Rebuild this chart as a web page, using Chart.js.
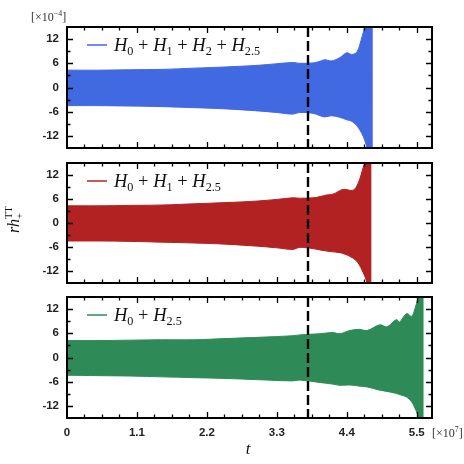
<!DOCTYPE html>
<html>
<head>
<meta charset="utf-8">
<script src="https://cdn.jsdelivr.net/npm/chart.js@4.4.1/dist/chart.umd.min.js"></script>
<style>
html, body { margin: 0; padding: 0; background: #fff; }
#wrap { position: relative; width: 464px; height: 464px; }
#wrap canvas { position: absolute; left: 0; }
</style>
</head>
<body>
<div id="wrap">
  <canvas id="g1" width="464" height="163" style="top:0px;width:464px;height:163px"></canvas>
  <canvas id="g2" width="464" height="158" style="top:140px;width:464px;height:158px"></canvas>
  <canvas id="g3" width="464" height="189" style="top:275px;width:464px;height:189px"></canvas>
</div>
<script>
// envolventes (t en 1e7, rh en 1e-4)
const tAzul = [0, 0.5, 1.0, 1.5, 2.0, 2.5, 3.0, 3.3, 3.55, 3.66, 3.87, 3.98, 4.05, 4.16, 4.29, 4.40, 4.48, 4.56, 4.64, 4.68, 4.73, 4.81];
const arribaAzul = [4.3, 4.3, 4.4, 4.5, 4.8, 5.1, 5.5, 5.9, 6.2, 6.0, 6.1, 6.5, 6.9, 6.6, 7.4, 8.6, 8.2, 8.8, 12.6, 15, 20, 40];
const abajoAzul = [-4.5, -4.5, -4.6, -4.75, -5.0, -5.3, -5.8, -6.2, -6.6, -6.2, -6.4, -7.0, -7.3, -7.0, -7.4, -8.0, -8.4, -9.5, -11.5, -13, -16, -40];

const tRojo = [0, 0.5, 1.0, 1.5, 2.0, 2.5, 3.0, 3.3, 3.55, 3.66, 3.87, 3.98, 4.08, 4.18, 4.34, 4.50, 4.58, 4.66, 4.70, 4.74, 4.79];
const arribaRojo = [4.3, 4.3, 4.4, 4.5, 4.8, 5.1, 5.5, 5.9, 6.3, 6.2, 6.3, 6.6, 7.0, 7.2, 8.4, 8.2, 10, 14, 16, 22, 40];
const abajoRojo = [-4.5, -4.5, -4.6, -4.8, -5.0, -5.3, -5.8, -6.2, -6.6, -6.1, -6.4, -6.75, -7.0, -7.2, -7.6, -8.8, -10, -12.5, -14, -17, -40];

const tVerde = [0, 0.5, 1.0, 1.5, 2.0, 2.5, 3.0, 3.55, 3.66, 3.98, 4.18, 4.29, 4.45, 4.60, 4.72, 4.92, 5.03, 5.18, 5.23, 5.34, 5.42, 5.47, 5.52, 5.56, 5.61];
const arribaVerde = [4.2, 4.2, 4.3, 4.4, 4.4, 4.7, 5.0, 5.4, 5.6, 5.9, 6.2, 5.9, 6.7, 7.0, 6.7, 8.1, 7.6, 9.4, 8.8, 10.9, 10.2, 12, 15, 20, 40];
const abajoVerde = [-4.4, -4.5, -4.6, -4.8, -5.0, -5.2, -5.5, -5.8, -5.6, -6.2, -6.6, -6.9, -6.8, -7.1, -7.3, -8.1, -8.4, -8.9, -9.2, -9.8, -11, -12.5, -14.5, -18, -40];

const etiquetas = ['H_0 + H_1 + H_2 + H_2.5', 'H_0 + H_1 + H_2.5', 'H_0 + H_2.5'];
const ticksX = [0, 1.1, 2.2, 3.3, 4.4, 5.5];
const ticksY = [-12, -6, 0, 6, 12];
const tLinea = 3.79; // linea discontinua

const serif = '"Liberation Serif", "DejaVu Serif", serif';

// texto tipo formula: letras en cursiva, "_x" subindice, "^x" superindice
function escribir(ctx, x, y, texto, tam) {
    const partes = texto.match(/_[^\s^]+|\^[^\s_]+|[A-Za-z]+|[^A-Za-z_^]+/g);
    for (const p of partes) {
        let t = p, size = tam, dy = 0, it = /^[A-Za-z]+$/.test(p);
        if (p[0] === '_') { t = p.slice(1); size = tam * 0.66; dy = tam * 0.24; it = false; }
        if (p[0] === '^') { t = p.slice(1); size = tam * 0.66; dy = -tam * 0.42; it = false; }
        ctx.font = (it ? 'italic ' : '') + size + 'px ' + serif;
        ctx.fillText(t, x, y + dy);
        x += ctx.measureText(t).width;
    }
    return x;
}

const marco = {
    id: 'marco',
    afterDatasetsDraw(chart, args, opts) {
        const { ctx, chartArea: a, scales: { x, y } } = chart;
        ctx.save();
        // linea discontinua
        const xm = x.getPixelForValue(tLinea);
        ctx.strokeStyle = '#000';
        ctx.lineWidth = 2.4;
        ctx.setLineDash([10, 4]);
        ctx.beginPath();
        ctx.moveTo(xm, a.top);
        ctx.lineTo(xm, a.bottom);
        ctx.stroke();
        ctx.setLineDash([]);

        // marcas hacia dentro en los cuatro lados
        ctx.lineWidth = 1.3;
        ctx.beginPath();
        for (let i = 1; i * 0.275 < x.max; i++) {
            const px = Math.round(x.getPixelForValue(i * 0.275)) + 0.5;
            const l = i % 4 === 0 ? 6 : 3.5;
            ctx.moveTo(px, a.bottom); ctx.lineTo(px, a.bottom - l);
            ctx.moveTo(px, a.top); ctx.lineTo(px, a.top + l);
        }
        for (let v = -12; v <= 12; v += 3) {
            const py = Math.round(y.getPixelForValue(v)) + 0.5;
            const l = v % 6 === 0 ? 6 : 3.5;
            ctx.moveTo(a.left, py); ctx.lineTo(a.left + l, py);
            ctx.moveTo(a.right, py); ctx.lineTo(a.right - l, py);
        }
        ctx.stroke();

        // marco
        ctx.lineWidth = 2;
        ctx.strokeRect(a.left, a.top, a.right - a.left, a.bottom - a.top);

        // leyenda
        const ly = a.top + 18;
        ctx.strokeStyle = opts.color;
        ctx.lineWidth = 1.5;
        ctx.beginPath();
        ctx.moveTo(a.left + 20, ly);
        ctx.lineTo(a.left + 40, ly);
        ctx.stroke();
        ctx.fillStyle = '#111';
        ctx.textBaseline = 'alphabetic';
        escribir(ctx, a.left + 47, ly + 6, opts.texto, 18.5);

        // textos sueltos
        ctx.fillStyle = '#333';
        if (opts.exponenteY) {
            let xx = escribir(ctx, 31, 21, '[\u00d710^\u22124', 12);
            ctx.font = '12px ' + serif;
            ctx.fillText(']', xx, 21);
        }
        if (opts.tituloY) {
            ctx.fillStyle = '#111';
            ctx.translate(19, a.top + 56);
            ctx.rotate(-Math.PI / 2);
            // superindice encima del subindice
            ctx.font = 'italic 16px ' + serif;
            ctx.fillText('rh', -14, 0);
            const wr = ctx.measureText('rh').width;
            ctx.font = '10.5px ' + serif;
            ctx.fillText('+', -14 + wr, 4);
            ctx.fillText('TT', -14 + wr, -7);
        }
        if (opts.exponenteX) {
            ctx.fillStyle = '#333';
            let xx = escribir(ctx, 432, a.bottom + 19, '[\u00d710^7', 12);
            ctx.font = '12px ' + serif;
            ctx.fillText(']', xx, a.bottom + 19);
            ctx.fillStyle = '#111';
            ctx.font = 'italic 17px ' + serif;
            ctx.textAlign = 'center';
            ctx.fillText('t', x.getPixelForValue(2.85), a.bottom + 36);
        }
        ctx.restore();
    }
};

function puntos(ts, vs) {
    return ts.map((t, i) => ({ x: t, y: vs[i] }));
}

function crearPanel(id, ts, arriba, abajo, color, extra) {
    const abajoDelTodo = !!extra.exponenteX;
    return new Chart(document.getElementById(id), {
        type: 'line',
        data: {
            datasets: [{
                data: puntos(ts, arriba),
                borderColor: color,
                backgroundColor: color,
                borderWidth: 1,
                pointRadius: 0,
                tension: 0.35,
                fill: '+1'
            }, {
                data: puntos(ts, abajo),
                borderColor: color,
                borderWidth: 1,
                pointRadius: 0,
                tension: 0.35,
                fill: false
            }]
        },
        options: {
            responsive: false,
            maintainAspectRatio: false,
            animation: false,
            events: [],
            layout: { padding: extra.padding },
            plugins: {
                legend: { display: false },
                tooltip: { enabled: false },
                marco: Object.assign({ color: color }, extra)
            },
            scales: {
                x: {
                    type: 'linear',
                    min: 0,
                    max: 5.74,
                    display: abajoDelTodo,
                    grid: { display: false, drawTicks: false },
                    border: { display: false },
                    afterBuildTicks: s => { s.ticks = ticksX.map(v => ({ value: v })); },
                    afterFit: s => { s.height = abajoDelTodo ? 46 : 0; },
                    ticks: {
                        padding: 8,
                        autoSkip: false,
                        maxRotation: 0,
                        color: '#222',
                        font: { family: '"Liberation Sans", Arial, sans-serif', size: 11.5, weight: 'bold' },
                        callback: v => String(v)
                    }
                },
                y: {
                    min: -15,
                    max: 15,
                    grid: { display: false, drawTicks: false },
                    border: { display: false },
                    afterBuildTicks: s => { s.ticks = ticksY.map(v => ({ value: v })); },
                    afterFit: s => { s.width = 67; },
                    ticks: {
                        padding: 8,
                        autoSkip: false,
                        color: '#222',
                        font: { family: '"Liberation Sans", Arial, sans-serif', size: 11.5, weight: 'bold' },
                        callback: v => String(v)
                    }
                }
            }
        },
        plugins: [marco]
    });
}

// el margen de 15 px cubre el desborde de las etiquetas del eje y
crearPanel('g1', tAzul, arribaAzul, abajoAzul, '#4169e1',
    { texto: etiquetas[0], exponenteY: true, padding: { top: 27, right: 32, bottom: 15, left: 0 } });
crearPanel('g2', tRojo, arribaRojo, abajoRojo, '#b22222',
    { texto: etiquetas[1], tituloY: true, padding: { top: 23, right: 32, bottom: 15, left: 0 } });
crearPanel('g3', tVerde, arribaVerde, abajoVerde, '#2e8b57',
    { texto: etiquetas[2], exponenteX: true, padding: { top: 22, right: 32, bottom: 0, left: 0 } });
</script>
</body>
</html>
